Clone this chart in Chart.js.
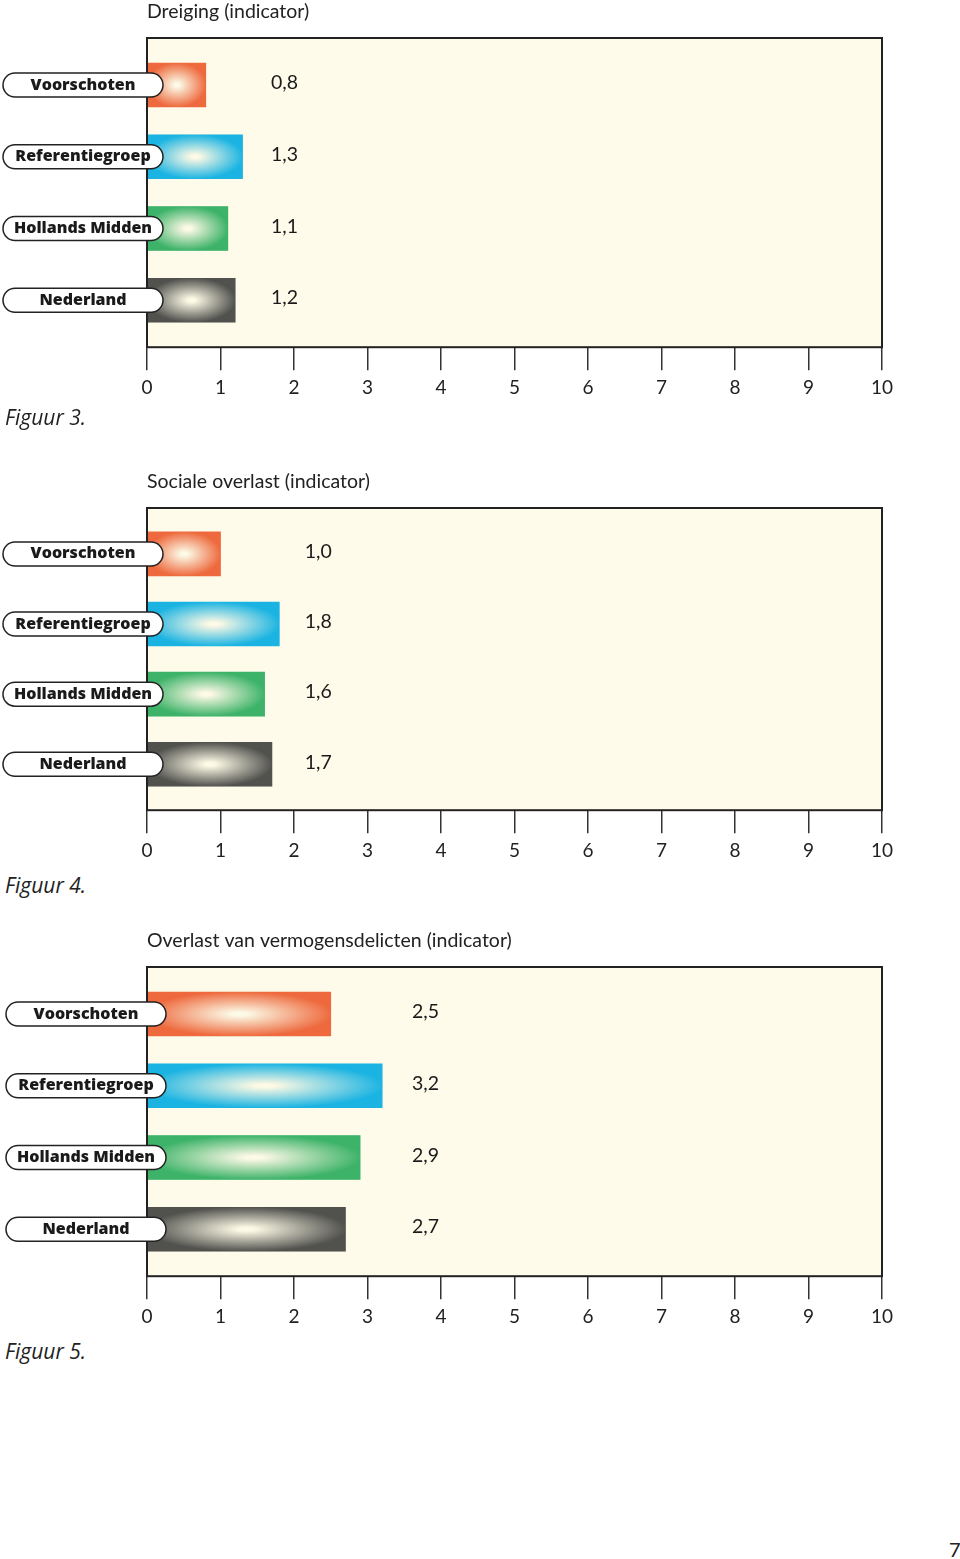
<!DOCTYPE html>
<html>
<head>
<meta charset="utf-8">
<script src="https://cdn.jsdelivr.net/npm/chart.js@4"></script>
<style>
  body { margin: 0; background: #fff; width: 960px; height: 1559px; position: relative; overflow: hidden; }
  canvas { position: absolute; left: 0; }
  .fig { position: absolute; left: 5px; font-family: "Open Sans", sans-serif; font-style: italic; font-size: 21px; color: #222; }
  .page { position: absolute; left: 949px; top: 1537px; font-family: Lato, sans-serif; font-size: 20px; color: #222; }
</style>
</head>
<body>
<canvas id="c1" width="960" height="405" style="top:0px"></canvas>
<canvas id="c2" width="960" height="398" style="top:470px"></canvas>
<canvas id="c3" width="960" height="405" style="top:929px"></canvas>
<div class="fig" style="top:403px">Figuur 3.</div>
<div class="fig" style="top:871px">Figuur 4.</div>
<div class="fig" style="top:1337px">Figuur 5.</div>
<div class="page">7</div>
<script>
// data
const categories = ['Voorschoten', 'Referentiegroep', 'Hollands Midden', 'Nederland'];
const barColors = ['#ee6a3e', '#1bb4e2', '#3db369', '#51514e'];
const titles = ['Dreiging (indicator)', 'Sociale overlast (indicator)', 'Overlast van vermogensdelicten (indicator)'];
const dreiging = [0.8, 1.3, 1.1, 1.2];
const socialeOverlast = [1.0, 1.8, 1.6, 1.7];
const vermogensdelicten = [2.5, 3.2, 2.9, 2.7];
const xTicks = [0, 1, 2, 3, 4, 5, 6, 7, 8, 9, 10];
const valueLabelAt = [1.87, 2.33, 3.79];   // x position (axis units) of the value column
const pillLeft = [3, 3, 6];

let fmt = v => v.toFixed(1).replace('.', ',');

// plot box, glossy bars, pill labels and value labels
const figurePlugin = {
  id: 'figure',
  beforeDatasetsDraw(chart) {
    const a = chart.chartArea;
    const ctx = chart.ctx;
    ctx.save();
    ctx.fillStyle = '#fefbea';
    ctx.fillRect(a.left, a.top, a.right - a.left, a.bottom - a.top);
    ctx.restore();
  },
  afterDatasetsDraw(chart) {
    const a = chart.chartArea;
    const ctx = chart.ctx;
    const o = chart.options.plugins.figure;
    const meta = chart.getDatasetMeta(0);
    const xs = chart.scales.x;

    // glossy highlight on each bar
    meta.data.forEach((el, i) => {
      const p = el.getProps(['x', 'y', 'base', 'height'], true);
      const left = Math.min(p.x, p.base), w = Math.abs(p.x - p.base), h = p.height;
      const cx = left + w / 2, cy = p.y;
      ctx.save();
      ctx.beginPath();
      ctx.rect(left, cy - h / 2, w, h);
      ctx.clip();
      ctx.translate(cx, cy);
      ctx.scale(w / 2, h / 2);
      let g = ctx.createRadialGradient(0, 0, 0, 0, 0, 1.15);
      g.addColorStop(0, '#fdfbea');
      g.addColorStop(0.08, '#fbf8e4');
      g.addColorStop(0.88, barColors[i]);
      g.addColorStop(1, barColors[i]);
      ctx.fillStyle = g;
      ctx.fillRect(-1, -1, 2, 2);
      ctx.restore();
    });

    // box border
    ctx.save();
    ctx.strokeStyle = '#222';
    ctx.lineWidth = 2;
    ctx.strokeRect(a.left, a.top, a.right - a.left, a.bottom - a.top);

    // title
    ctx.fillStyle = '#222';
    ctx.font = '19.5px Lato';
    ctx.textBaseline = 'middle';
    ctx.textAlign = 'left';
    ctx.fillText(o.title, a.left, a.top - 26);

    // pills + values
    meta.data.forEach((el, i) => {
      const y = el.y;
      const x0 = o.pillLeft, x1 = o.pillLeft + 160, r = 12;
      ctx.beginPath();
      ctx.moveTo(x0 + r, y - r);
      ctx.lineTo(x1 - r, y - r);
      ctx.arc(x1 - r, y, r, -Math.PI / 2, Math.PI / 2);
      ctx.lineTo(x0 + r, y + r);
      ctx.arc(x0 + r, y, r, Math.PI / 2, Math.PI * 1.5);
      ctx.closePath();
      ctx.fillStyle = '#fff';
      ctx.fill();
      ctx.lineWidth = 1.5;
      ctx.strokeStyle = '#222';
      ctx.stroke();
      ctx.fillStyle = '#1a1a1a';
      ctx.font = '800 16px "Open Sans"';
      ctx.textAlign = 'center';
      ctx.fillText(chart.data.labels[i], (x0 + x1) / 2, y);
      ctx.font = '19.5px Lato';
      ctx.fillText(fmt(chart.data.datasets[0].data[i].x), xs.getPixelForValue(o.valueAt), y - 2);
    });
    ctx.restore();
  }
};

let makeChart = (id, n, values) => {
  const context = document.getElementById(id).getContext('2d');
  return new Chart(context, {
    type: 'bar',
    data: {
      labels: categories,
      datasets: [{
        data: values.map((v, i) => ({ x: v, y: i })),
        backgroundColor: barColors,
        borderWidth: 0,
        barThickness: 44
      }]
    },
    options: {
      indexAxis: 'y',
      responsive: false,
      animation: false,
      events: [],
      layout: { padding: { left: 147, right: 78, top: 38, bottom: 0 } },
      scales: {
        x: {
          type: 'linear',
          min: 0,
          max: 10,
          afterBuildTicks: s => { s.ticks = xTicks.map(v => ({ value: v })); },
          grid: { drawOnChartArea: false, drawTicks: true, tickLength: 23, color: '#333', lineWidth: 1.5 },
          border: { display: false },
          ticks: { padding: 6, color: '#222', font: { family: 'Lato', size: 19 } }
        },
        y: {
          type: 'linear',
          offset: false,
          grid: { offset: false },
          bounds: 'data',
          min: -0.655,
          max: 3.655,
          reverse: true,
          display: false
        }
      },
      plugins: {
        legend: { display: false },
        tooltip: { enabled: false },
        figure: { title: titles[n], valueAt: valueLabelAt[n], pillLeft: pillLeft[n] }
      }
    },
    plugins: [figurePlugin]
  });
};

makeChart('c1', 0, dreiging);
makeChart('c2', 1, socialeOverlast);
makeChart('c3', 2, vermogensdelicten);
</script>
</body>
</html>
